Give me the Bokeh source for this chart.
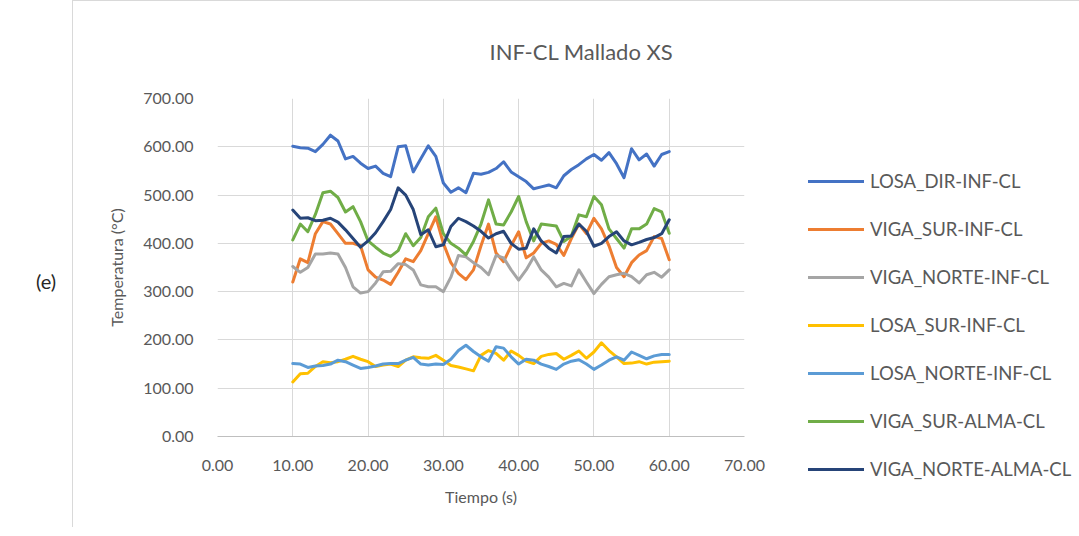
from bokeh.plotting import figure
from bokeh.models import Legend, LegendItem, FixedTicker, NumeralTickFormatter, Range1d, Div
from bokeh.layouts import row
from bokeh.embed import file_html
from bokeh.resources import INLINE

tiempo = list(range(10, 61))

losa_dir = [601, 598, 597, 590, 605, 624, 612, 575, 580, 566,
            555, 560, 545, 538, 600, 602, 548, 575, 602, 580,
            525, 506, 515, 505, 545, 543, 547, 555, 569, 548,
            538, 528, 513, 517, 521, 515, 540, 553, 563, 575,
            584, 572, 588, 565, 536, 596, 573, 585, 560, 584, 590]
viga_sur = [320, 368, 360, 420, 445, 440, 420, 400, 400, 395,
            345, 330, 324, 315, 340, 368, 362, 385, 420, 455,
            400, 360, 338, 325, 345, 395, 440, 380, 362, 395,
            424, 370, 380, 400, 405, 398, 375, 410, 440, 420,
            452, 430, 395, 350, 331, 360, 376, 385, 414, 410, 366]
viga_norte = [352, 340, 350, 378, 378, 380, 378, 350, 310, 297,
              300, 318, 341, 342, 358, 356, 345, 314, 310, 310,
              300, 330, 375, 372, 360, 350, 335, 375, 370, 345,
              324, 345, 372, 345, 330, 310, 317, 312, 345, 320,
              296, 315, 331, 335, 338, 331, 318, 335, 340, 330, 345]
losa_sur = [113, 130, 131, 145, 155, 153, 155, 160, 166, 160,
            155, 145, 148, 150, 145, 158, 165, 163, 162, 168,
            158, 147, 144, 140, 136, 168, 178, 172, 158, 177,
            168, 156, 151, 166, 170, 172, 160, 168, 177, 162,
            175, 194, 178, 165, 151, 152, 155, 150, 154, 155, 156]
losa_norte = [151, 150, 143, 146, 147, 150, 158, 155, 148, 141,
              143, 146, 150, 151, 151, 158, 164, 150, 148, 150,
              149, 160, 178, 189, 176, 165, 156, 186, 183, 165,
              150, 160, 158, 150, 145, 139, 150, 156, 159, 150,
              139, 148, 158, 165, 158, 175, 168, 161, 167, 170, 170]
viga_sur_alma = [407, 440, 424, 460, 505, 508, 495, 465, 476, 445,
                 405, 392, 380, 373, 385, 420, 395, 412, 455, 473,
                 420, 400, 390, 376, 404, 440, 490, 440, 438, 465,
                 497, 445, 405, 440, 438, 436, 404, 415, 459, 455,
                 497, 480, 430, 410, 390, 430, 430, 440, 472, 465, 421]
viga_norte_alma = [469, 452, 453, 447, 448, 452, 444, 428, 410, 392,
                   405, 422, 445, 470, 515, 500, 470, 418, 428, 393,
                   397, 435, 452, 445, 436, 425, 411, 420, 425, 400,
                   388, 390, 430, 405, 390, 380, 414, 415, 440, 425,
                   394, 400, 414, 424, 405, 397, 402, 408, 412, 420, 449]

series_names = ["LOSA_DIR-INF-CL", "VIGA_SUR-INF-CL", "VIGA_NORTE-INF-CL",
                "LOSA_SUR-INF-CL", "LOSA_NORTE-INF-CL", "VIGA_SUR-ALMA-CL",
                "VIGA_NORTE-ALMA-CL"]
series_values = [losa_dir, viga_sur, viga_norte, losa_sur, losa_norte,
                 viga_sur_alma, viga_norte_alma]
colors = ["#4472C4", "#ED7D31", "#A5A5A5", "#FFC000", "#5B9BD5", "#70AD47", "#264478"]

x_ticks = [0, 10, 20, 30, 40, 50, 60, 70]
y_ticks = [0, 100, 200, 300, 400, 500, 600, 700]

FONT = "Lato"
TXT = "#595959"
GRID = "#d9d9d9"

p = figure(frame_width=526, frame_height=337, output_backend="svg", toolbar_location=None,
           x_range=Range1d(0, 70), y_range=Range1d(0, 700),
           min_border_left=144, min_border_right=0,
           min_border_top=97, min_border_bottom=92)
p.styles = {"border-left": "1px solid " + GRID, "border-top": "1px solid " + GRID}
p.outline_line_color = None

p.title.text = "INF-CL Mallado XS"
p.title.align = "left"
p.title.offset = 272
p.title.standoff = 68
p.title.text_font = FONT
p.title.text_font_size = "22px"
p.title.text_font_style = "normal"
p.title.text_color = TXT

p.xaxis.ticker = FixedTicker(ticks=x_ticks)
p.yaxis.ticker = FixedTicker(ticks=y_ticks)
p.xaxis.formatter = NumeralTickFormatter(format="0.00")
p.yaxis.formatter = NumeralTickFormatter(format="0.00")
for ax in (p.xaxis[0], p.yaxis[0]):
    ax.major_tick_line_color = None
    ax.minor_tick_line_color = None
    ax.major_label_text_font = FONT
    ax.major_label_text_font_size = "16px"
    ax.major_label_text_color = TXT
    ax.axis_label_text_font = FONT
    ax.axis_label_text_font_size = "16px"
    ax.axis_label_text_font_style = "normal"
    ax.axis_label_text_color = TXT
p.xaxis.axis_line_color = "#bfbfbf"
p.yaxis.axis_line_color = None
p.xaxis.axis_label = "Tiempo (s)"
p.yaxis.axis_label = "Temperatura (°C)"
p.xaxis.major_label_standoff = 17
p.yaxis.major_label_standoff = 18
p.xaxis.axis_label_standoff = 13
p.yaxis.axis_label_standoff = 14
p.xgrid.grid_line_color = GRID
p.ygrid.grid_line_color = GRID

items = []
for name, vals, c in zip(series_names, series_values, colors):
    r = p.line(tiempo, vals, line_color=c, line_width=3, line_join="round", line_cap="round")
    items.append(LegendItem(label=name, renderers=[r]))

legend = Legend(items=items, location=(64, -44), orientation="vertical",
                glyph_width=56, glyph_height=20, label_height=20, spacing=26,
                label_standoff=6, padding=0, margin=0,
                border_line_color=None, background_fill_alpha=0,
                label_text_font=FONT, label_text_font_size="18.5px",
                label_text_color=TXT)
p.add_layout(legend, "right")

lab = Div(text='<div style="padding-top:262px;padding-left:31px;font-size:20px;'
               'font-family:Lato;color:#262626;">(e)</div>',
          width=62, height=526)

layout = row(lab, p)
html = file_html(layout, INLINE)
html = html.replace("<head>", "<head><style>html,body{overflow:hidden;}</style>", 1)
open("out.html", "w").write(html)
